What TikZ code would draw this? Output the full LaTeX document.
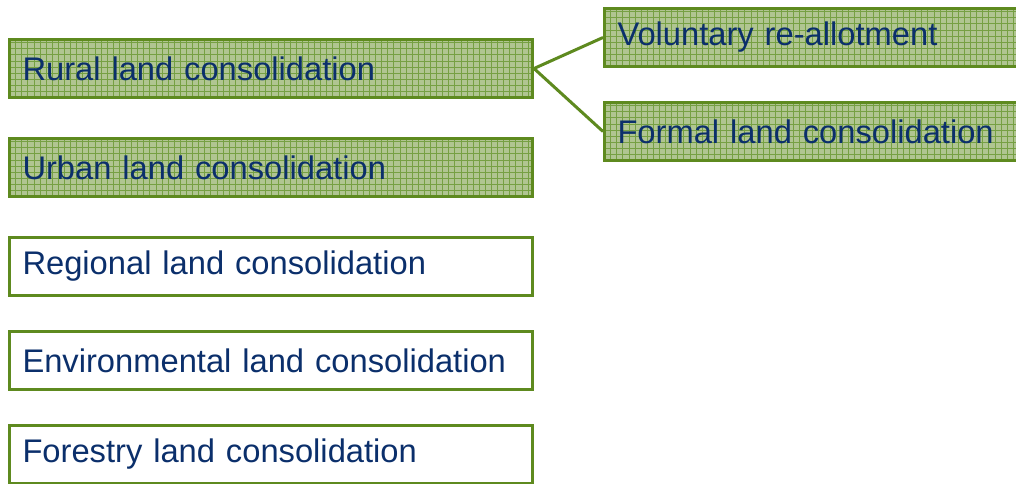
\documentclass[tikz,border=0pt]{standalone}
\usepackage{fontspec}
\setmainfont{Liberation Sans}
\definecolor{bordergreen}{HTML}{5E8A1F}
\definecolor{fillgreen}{HTML}{B0C591}
\definecolor{gridgreen}{HTML}{76A043}
\definecolor{textblue}{HTML}{0B2F6B}
\tikzset{
  box/.style={draw=bordergreen, line width=3pt, rectangle, anchor=north west,
    minimum height=58pt, inner xsep=13pt, inner ysep=0pt, align=left,
    text=textblue, font=\fontsize{32.7}{40}\selectfont},
  leftbox/.style={box, text width=497pt},
  rightbox/.style={box, text width=400pt},
  gridded/.style={fill=fillgreen,
    path picture={
      \foreach \i in {1,...,90}{\draw[gridgreen, line width=0.8pt]
        ([xshift=\i*6.1pt]path picture bounding box.south west) --
        ([xshift=\i*6.1pt]path picture bounding box.north west);}
      \foreach \j in {1,...,12}{\draw[gridgreen, line width=0.8pt]
        ([yshift=\j*6.1pt]path picture bounding box.south west) --
        ([yshift=\j*6.1pt]path picture bounding box.south east);}
    }},
  link/.style={draw=bordergreen, line width=3pt}
}
\begin{document}
\begin{tikzpicture}[x=1pt,y=-1pt]
\useasboundingbox (0,0) rectangle (1016,483);
\node[leftbox, gridded] (rural) at (8,38) {Rural land consolidation};
\node[leftbox, gridded] (urban) at (8,137) {Urban land consolidation};
\node[leftbox] (regional) at (8,236) {Regional land consolidation};
\node[leftbox] (env) at (8,330) {Environmental land consolidation};
\node[leftbox] (forest) at (8,424) {Forestry land consolidation};
\node[rightbox, gridded] (vol) at (603,7) {Voluntary re-allotment};
\node[rightbox, gridded] (formal) at (603,101) {Formal land consolidation};
\draw[link] (rural.east) -- (vol.west);
\draw[link] (rural.east) -- (formal.west);
\end{tikzpicture}
\end{document}
